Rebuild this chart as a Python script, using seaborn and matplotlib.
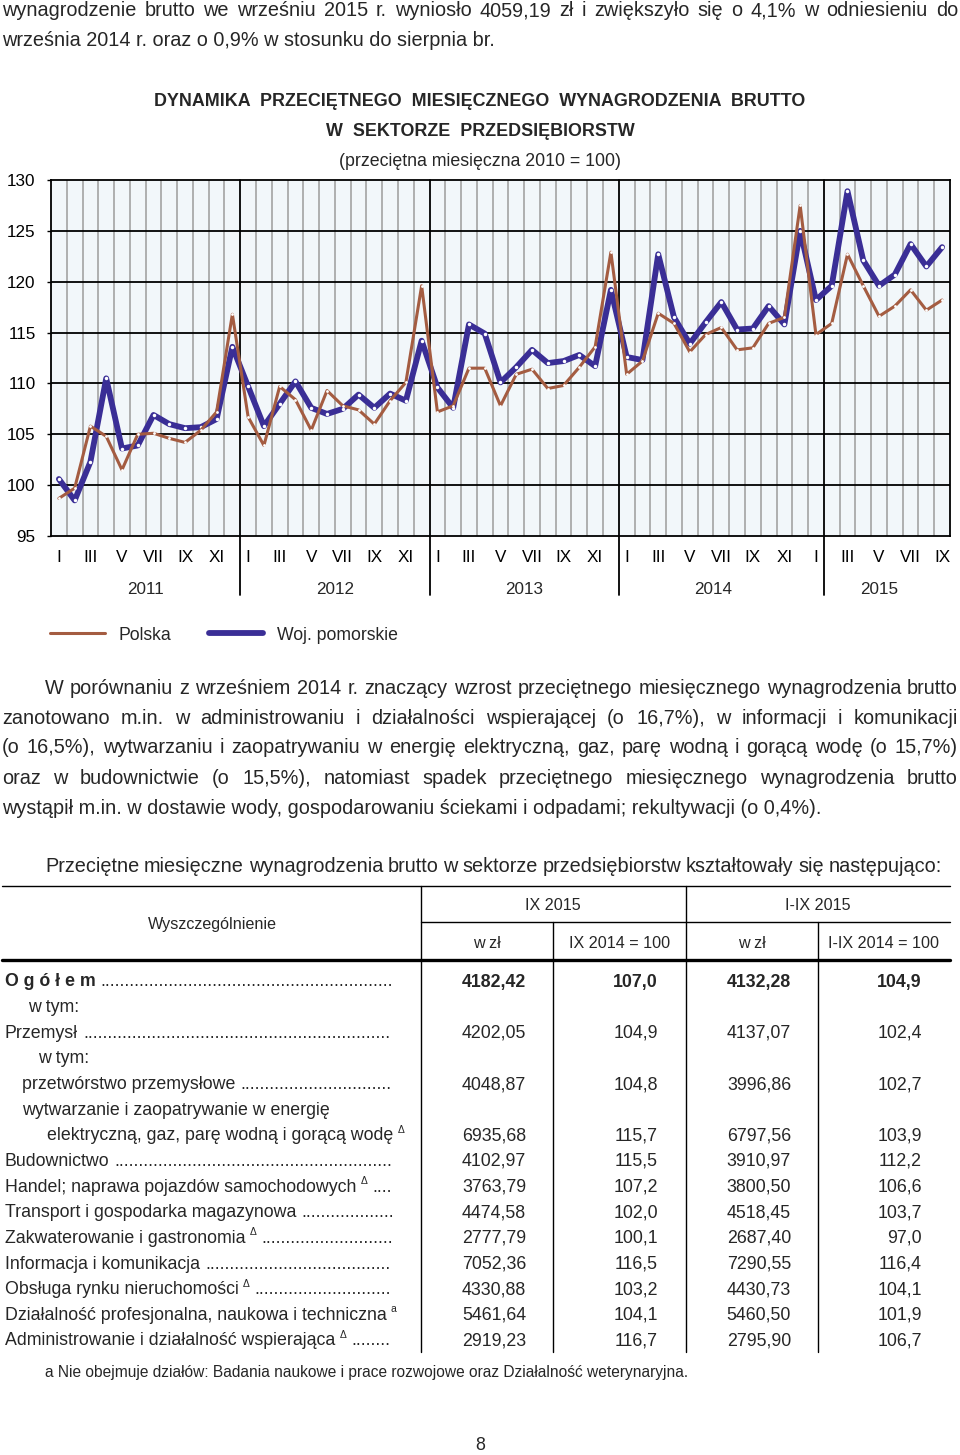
import numpy as np
import pandas as pd
import matplotlib
matplotlib.use("Agg")
import matplotlib.pyplot as plt
import matplotlib.transforms as mtransforms
from matplotlib.lines import Line2D
import seaborn as sns

# dane do wykresu (przecietna miesieczna 2010 = 100), I 2011 - IX 2015
polska = [98.7, 99.7, 105.8, 104.8, 101.5, 105.0, 105.1, 104.6, 104.2, 105.4, 107.2, 116.8,
          106.7, 103.9, 109.7, 108.4, 105.4, 109.3, 107.8, 107.4, 106.0, 108.3, 110.1, 119.6,
          107.2, 107.8, 111.5, 111.5, 107.8, 110.9, 111.4, 109.5, 109.8, 111.6, 113.6, 122.9,
          110.9, 112.2, 116.9, 115.9, 113.1, 114.8, 115.5, 113.3, 113.5, 115.9, 116.5, 127.5,
          114.8, 115.9, 122.7, 119.6, 116.6, 117.6, 119.2, 117.2, 118.2]
pomorskie = [100.6, 98.5, 102.3, 110.5, 103.6, 103.9, 106.9, 106.0, 105.6, 105.7, 106.5, 113.6,
             109.7, 105.8, 108.0, 110.2, 107.6, 107.0, 107.5, 108.9, 107.6, 109.0, 108.3, 114.2,
             109.6, 107.6, 115.8, 114.9, 110.1, 111.6, 113.3, 112.0, 112.2, 112.8, 111.7, 119.2,
             112.6, 112.3, 122.7, 116.5, 113.9, 116.0, 118.0, 115.3, 115.4, 117.6, 115.8, 125.0,
             118.2, 119.6, 128.9, 122.1, 119.6, 120.7, 123.7, 121.5, 123.4]
month_names = ["I", "III", "V", "VII", "IX", "XI"]
years = ["2011", "2012", "2013", "2014", "2015"]
year_centers = [5.5, 17.5, 29.5, 41.5, 52]
year_breaks = [11.5, 23.5, 35.5, 48.5]

# dane do tabeli
row_labels = ["O g ó ł e m", "w tym:", "Przemysł", "w tym:", "przetwórstwo przemysłowe",
              "wytwarzanie i zaopatrywanie w energię",
              "elektryczną, gaz, parę wodną i gorącą wodę", "Budownictwo",
              "Handel; naprawa pojazdów samochodowych", "Transport i gospodarka magazynowa",
              "Zakwaterowanie i gastronomia", "Informacja i komunikacja",
              "Obsługa rynku nieruchomości", "Działalność profesjonalna, naukowa i techniczna",
              "Administrowanie i działalność wspierająca"]
row_marks = ["", "", "", "", "", "", "Δ", "", "Δ", "", "Δ", "", "Δ", "a", "Δ"]
wage_ix = [4182.42, None, 4202.05, None, 4048.87, None, 6935.68, 4102.97, 3763.79, 4474.58,
           2777.79, 7052.36, 4330.88, 5461.64, 2919.23]
index_ix = [107.0, None, 104.9, None, 104.8, None, 115.7, 115.5, 107.2, 102.0,
            100.1, 116.5, 103.2, 104.1, 116.7]
wage_iix = [4132.28, None, 4137.07, None, 3996.86, None, 6797.56, 3910.97, 3800.50, 4518.45,
            2687.40, 7290.55, 4430.73, 5460.50, 2795.90]
index_iix = [104.9, None, 102.4, None, 102.7, None, 103.9, 112.2, 106.6, 103.7,
             97.0, 116.4, 104.1, 101.9, 106.7]

BROWN = "#a45c41"
BLUE = "#3a2e96"
BODY = 14.3
TAB = 12.8

sns.set_theme(style="white")
plt.rcParams["font.family"] = ["Liberation Sans", "DejaVu Sans"]

W, H = 960, 1455
fig = plt.figure(figsize=(9.6, 14.55), dpi=100)
r = fig.canvas.get_renderer()


def fx(x):
    return x / W


def fy(y):
    return 1 - y / H


def width(t):
    return t.get_window_extent(r).width


def justify(y, text, x0, x1, size=BODY):
    words = text.split()
    arts = [fig.text(0, fy(y), w, fontsize=size, va="center") for w in words]
    ws = [width(a) for a in arts]
    gap = (x1 - x0 - sum(ws)) / (len(words) - 1)
    x = x0
    for a, w in zip(arts, ws):
        a.set_x(fx(x))
        x += w + gap


def hline(y, x0, x1, lw=1.0):
    fig.add_artist(Line2D([fx(x0), fx(x1)], [fy(y), fy(y)], color="black", lw=lw,
                          transform=fig.transFigure))


def vline(x, y0, y1, lw=1.0):
    fig.add_artist(Line2D([fx(x), fx(x)], [fy(y0), fy(y1)], color="black", lw=lw,
                          transform=fig.transFigure))


# tekst nad wykresem
justify(11, "wynagrodzenie brutto we wrześniu 2015 r. wyniosło 4059,19 zł i zwiększyło "
            "się o 4,1% w odniesieniu do", 2, 958)
fig.text(fx(2), fy(41), "września 2014 r. oraz o 0,9% w stosunku do sierpnia br.",
         fontsize=BODY, va="center")

fig.text(0.5, fy(101), "DYNAMIKA  PRZECIĘTNEGO  MIESIĘCZNEGO  WYNAGRODZENIA  BRUTTO",
         fontsize=12.9, fontweight="bold", ha="center", va="center")
fig.text(0.5, fy(131), "W  SEKTORZE  PRZEDSIĘBIORSTW", fontsize=12.9, fontweight="bold",
         ha="center", va="center")
fig.text(0.5, fy(161), "(przeciętna miesięczna 2010 = 100)", fontsize=12.8,
         ha="center", va="center")

# wykres
ax = fig.add_axes([fx(51), fy(536), 899 / W, 356 / H])
ax.set_facecolor("#f2f7fa")
df = pd.DataFrame({"m": np.arange(len(polska)), "Polska": polska,
                   "Woj. pomorskie": pomorskie})
sns.lineplot(data=df, x="m", y="Woj. pomorskie", color=BLUE, linewidth=4.2, ax=ax,
             marker="o", markersize=2.5, markerfacecolor="white", markeredgewidth=0,
             zorder=5)
sns.lineplot(data=df, x="m", y="Polska", color=BROWN, linewidth=2.2, ax=ax,
             marker="o", markersize=2, markerfacecolor="white", markeredgewidth=0,
             zorder=6)

ax.set_xlim(-0.5, len(polska) - 0.5)
ax.set_ylim(95, 130)
ax.set_xlabel("")
ax.set_ylabel("")
for v in range(100, 130, 5):
    ax.axhline(v, color="black", lw=1.3, zorder=2)
for k in range(len(polska) - 1):
    x = k + 0.5
    if x in year_breaks:
        ax.axvline(x, ymin=-0.166, ymax=1, color="black", lw=1.3, clip_on=False, zorder=3)
    else:
        ax.axvline(x, color="#9c9c9c", lw=1.1, zorder=1)
for s in ax.spines.values():
    s.set_color("black")
    s.set_linewidth(1.3)

ax.set_yticks(range(95, 131, 5))
ax.tick_params(axis="y", length=3, width=1, color="black", labelsize=12.3, pad=8,
               left=True, labelcolor="black")
xt = list(range(0, len(polska), 2))
ax.set_xticks(xt)
ax.set_xticklabels([month_names[(m % 12) // 2] for m in xt])
ax.tick_params(axis="x", length=0, labelsize=12.3, pad=10, labelcolor="black")

trans = mtransforms.blended_transform_factory(ax.transData, fig.transFigure)
for yr, c in zip(years, year_centers):
    ax.text(c, fy(589), yr, transform=trans, ha="center", va="center", fontsize=12.3)

handles = [Line2D([], [], color=BROWN, lw=2.2), Line2D([], [], color=BLUE, lw=4.2)]
fig.legend(handles, ["Polska", "Woj. pomorskie"], loc="center left",
           bbox_to_anchor=(fx(50), fy(635)), ncol=2, frameon=False, fontsize=12.7,
           handlelength=3.1, handletextpad=0.8, columnspacing=2.1, borderpad=0,
           borderaxespad=0)

# tekst pod wykresem
justify(688, "W porównaniu z wrześniem 2014 r. znaczący wzrost przeciętnego miesięcznego "
             "wynagrodzenia brutto", 45, 958)
justify(718, "zanotowano m.in. w administrowaniu i działalności wspierającej (o 16,7%), "
             "w informacji i komunikacji", 2, 958)
justify(748, "(o 16,5%), wytwarzaniu i zaopatrywaniu w energię elektryczną, gaz, parę "
             "wodną i gorącą wodę (o 15,7%)", 2, 958)
justify(778, "oraz w budownictwie (o 15,5%), natomiast spadek przeciętnego miesięcznego "
             "wynagrodzenia brutto", 2, 958)
fig.text(fx(2), fy(808), "wystąpił m.in. w dostawie wody, gospodarowaniu ściekami "
         "i odpadami; rekultywacji (o 0,4%).", fontsize=BODY, va="center")
justify(866, "Przeciętne miesięczne wynagrodzenia brutto w sektorze przedsiębiorstw "
             "kształtowały się następująco:", 45, 942)

# tabela
hline(886, 2, 950)
hline(922, 421, 950)
hline(960, 2, 950, lw=2.4)
vline(421, 886, 1352)
vline(686, 886, 1352)
vline(553, 922, 1352)
vline(818, 922, 1352)
fig.text(fx(212), fy(924), "Wyszczególnienie", fontsize=11.6, ha="center", va="center")
fig.text(fx(553), fy(905), "IX 2015", fontsize=11.6, ha="center", va="center")
fig.text(fx(818), fy(905), "I-IX 2015", fontsize=11.6, ha="center", va="center")
for x, t in zip([487, 620, 752, 884], ["w zł", "IX 2014 = 100", "w zł", "I-IX 2014 = 100"]):
    fig.text(fx(x), fy(944), t, fontsize=11.6, ha="center", va="center")

indents = [5, 28, 5, 38, 22, 22, 47, 5, 5, 5, 5, 5, 5, 5, 5]
with_dots = [True, False, True, False, True, False, False, True, True, True, True, True,
             True, False, True]
dot = fig.text(0, 0, "." * 20, fontsize=TAB)
dot_w = width(dot) / 20
dot.remove()


def num(v, fmt):
    return "" if v is None else format(v, fmt).replace(".", ",")


for i, lab in enumerate(row_labels):
    y = 982 + i * 25.64
    wt = "bold" if i == 0 else "normal"
    t = fig.text(fx(indents[i]), fy(y), lab, fontsize=TAB, fontweight=wt, va="center")
    end = indents[i] + width(t)
    if row_marks[i]:
        m = fig.text(fx(end + 4), fy(y - 6), row_marks[i], fontsize=7.5, va="center")
        end += 4 + width(m)
    if with_dots[i]:
        n = int((394 - end - 5) / dot_w)
        if n > 0:
            fig.text(fx(end + 5), fy(y), "." * n, fontsize=TAB, va="center")
    for x, vals, fmt in [(526, wage_ix, ".2f"), (658, index_ix, ".1f"),
                         (791, wage_iix, ".2f"), (922, index_iix, ".1f")]:
        fig.text(fx(x), fy(y), num(vals[i], fmt), fontsize=TAB, fontweight=wt,
                 ha="right", va="center")

fig.text(fx(45), fy(1373), "a Nie obejmuje działów: Badania naukowe i prace rozwojowe "
         "oraz Działalność weterynaryjna.", fontsize=11.2, va="center")
fig.text(0.5, fy(1446), "8", fontsize=12.8, ha="center", va="center")

fig.savefig("out.png", dpi=100)
